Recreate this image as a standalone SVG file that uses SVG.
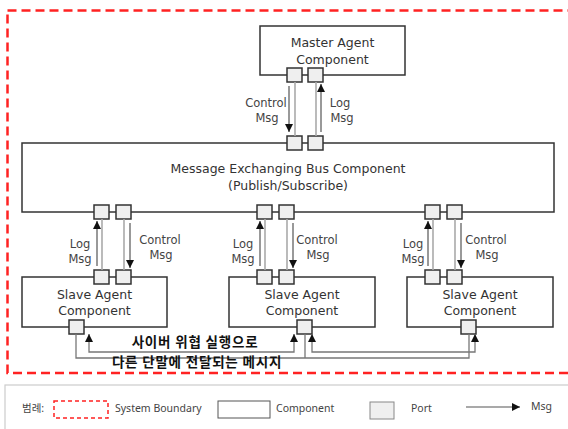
<svg xmlns="http://www.w3.org/2000/svg" width="568" height="429" viewBox="0 0 568 429">
<defs>
<marker id="ah" viewBox="0 0 8 8" refX="8" refY="4" markerWidth="8" markerHeight="8" markerUnits="userSpaceOnUse" orient="auto-start-reverse">
<path d="M0,0 L8,4 L0,8 z" fill="#111"/>
</marker>
<style>
.box{fill:#fff;stroke:#333;stroke-width:1.5}
.port{fill:#efefef;stroke:#333;stroke-width:1.5}
.t{font-family:"DejaVu Sans","Liberation Sans",sans-serif;font-size:12.5px;fill:#333;text-anchor:middle}
.lbl{font-family:"DejaVu Sans","Liberation Sans",sans-serif;font-size:11.5px;fill:#444;text-anchor:middle}
.kr{font-family:"Noto Sans CJK KR",sans-serif;font-size:13.5px;letter-spacing:0.8px;font-weight:bold;fill:#111;text-anchor:middle}
.lg{font-family:"Noto Sans","Liberation Sans","Noto Sans CJK KR",sans-serif;font-size:10.5px;fill:#444}
.link{fill:none;stroke:#aaa;stroke-width:1.6}
.arr{fill:none;stroke:#555;stroke-width:1.2;marker-end:url(#ah)}
.bl{fill:none;stroke:#777;stroke-width:1.3}
.ba{fill:none;stroke:#777;stroke-width:1.3;marker-start:url(#ah);marker-end:url(#ah)}
</style>
</defs>
<rect width="568" height="429" fill="#fff"/>
<rect id="boundary" x="7.5" y="10.5" width="575" height="362.5" fill="none" stroke="#f22" stroke-width="2.5" stroke-dasharray="9,5"/>

<g id="master">
<rect class="box" x="260" y="26" width="145" height="49"/>
<text class="t" x="332.5" y="47">Master Agent</text>
<text class="t" x="332.5" y="64">Component</text>
<rect class="port" x="287" y="68" width="15" height="14"/>
<rect class="port" x="308" y="68" width="15" height="14"/>
</g>

<g id="bus">
<rect class="box" x="22" y="143" width="532" height="69"/>
<text class="t" x="288" y="173">Message Exchanging Bus Component</text>
<text class="t" x="288" y="190">(Publish/Subscribe)</text>
<rect class="port" x="287" y="136" width="15" height="14"/>
<rect class="port" x="308" y="136" width="15" height="14"/>
<rect class="port" x="94" y="205" width="15" height="14"/>
<rect class="port" x="116" y="205" width="15" height="14"/>
<rect class="port" x="257" y="205" width="15" height="14"/>
<rect class="port" x="279" y="205" width="15" height="14"/>
<rect class="port" x="425" y="205" width="15" height="14"/>
<rect class="port" x="447" y="205" width="15" height="14"/>
</g>

<g id="slave1">
<rect class="box" x="22" y="277" width="145" height="50"/>
<text class="t" x="94.5" y="299">Slave Agent</text>
<text class="t" x="94.5" y="315">Component</text>
<rect class="port" x="94" y="270" width="15" height="14"/>
<rect class="port" x="116" y="270" width="15" height="14"/>
<rect class="port" x="69" y="320" width="15" height="14"/>
</g>

<g id="slave2">
<rect class="box" x="229" y="277" width="146" height="50"/>
<text class="t" x="302" y="299">Slave Agent</text>
<text class="t" x="302" y="315">Component</text>
<rect class="port" x="257" y="270" width="15" height="14"/>
<rect class="port" x="279" y="270" width="15" height="14"/>
<rect class="port" x="297" y="320" width="15" height="14"/>
</g>

<g id="slave3">
<rect class="box" x="407" y="277" width="146" height="50"/>
<text class="t" x="480" y="299">Slave Agent</text>
<text class="t" x="480" y="315">Component</text>
<rect class="port" x="425" y="270" width="15" height="14"/>
<rect class="port" x="447" y="270" width="15" height="14"/>
<rect class="port" x="461" y="320" width="15" height="14"/>
</g>

<g id="connectors">
<path class="link" d="M295,82 V136 M316,82 V136 M102,219 V270 M124,219 V270 M265,219 V270 M287,219 V270 M433,219 V270 M455,219 V270"/>
<path class="arr" d="M289,86 V132"/>
<path class="arr" d="M321,132 V84"/>
<path class="arr" d="M97,266 V221"/>
<path class="arr" d="M130,223 V268"/>
<path class="arr" d="M260,266 V221"/>
<path class="arr" d="M293,223 V268"/>
<path class="arr" d="M428,266 V221"/>
<path class="arr" d="M461,223 V268"/>
<path class="bl" d="M76,334 V358 H469 V334 M305,334 V358"/>
<path class="ba" d="M89,334 V352 H294 V334"/>
<path class="ba" d="M312,334 V352 H475 V334"/>
</g>

<g id="labels">
<text class="lbl" x="266" y="107">Control</text>
<text class="lbl" x="267" y="122">Msg</text>
<text class="lbl" x="340" y="107">Log</text>
<text class="lbl" x="342" y="122">Msg</text>
<text class="lbl" x="80" y="248">Log</text>
<text class="lbl" x="80" y="262.5">Msg</text>
<text class="lbl" x="160" y="244">Control</text>
<text class="lbl" x="161" y="258.5">Msg</text>
<text class="lbl" x="243" y="248">Log</text>
<text class="lbl" x="243" y="262.5">Msg</text>
<text class="lbl" x="317" y="244">Control</text>
<text class="lbl" x="318" y="258.5">Msg</text>
<text class="lbl" x="413" y="248">Log</text>
<text class="lbl" x="413" y="262.5">Msg</text>
<text class="lbl" x="486" y="244">Control</text>
<text class="lbl" x="487" y="258.5">Msg</text>
<text class="kr" x="195" y="347">사이버 위협 실행으로</text>
<text class="kr" x="197" y="366.5">다른 단말에 전달되는 메시지</text>
</g>

<g id="legend">
<rect x="5" y="385" width="580" height="60" fill="none" stroke="#ccc" stroke-width="1.2"/>
<text class="lg" x="22" y="412">범례:</text>
<rect x="54" y="401" width="54" height="17" fill="none" stroke="#f22" stroke-width="1.5" stroke-dasharray="4,3"/>
<text class="lg" x="115" y="412">System Boundary</text>
<rect x="218" y="401" width="52" height="17" fill="#fff" stroke="#555" stroke-width="1"/>
<text class="lg" x="276" y="412">Component</text>
<rect x="370" y="402" width="24" height="17" fill="#efefef" stroke="#888" stroke-width="1"/>
<text class="lg" x="411" y="412">Port</text>
<path d="M466,407 H520" fill="none" stroke="#555" stroke-width="1.2" marker-end="url(#ah)"/>
<text class="lg" x="531" y="410">Msg</text>
</g>
</svg>
